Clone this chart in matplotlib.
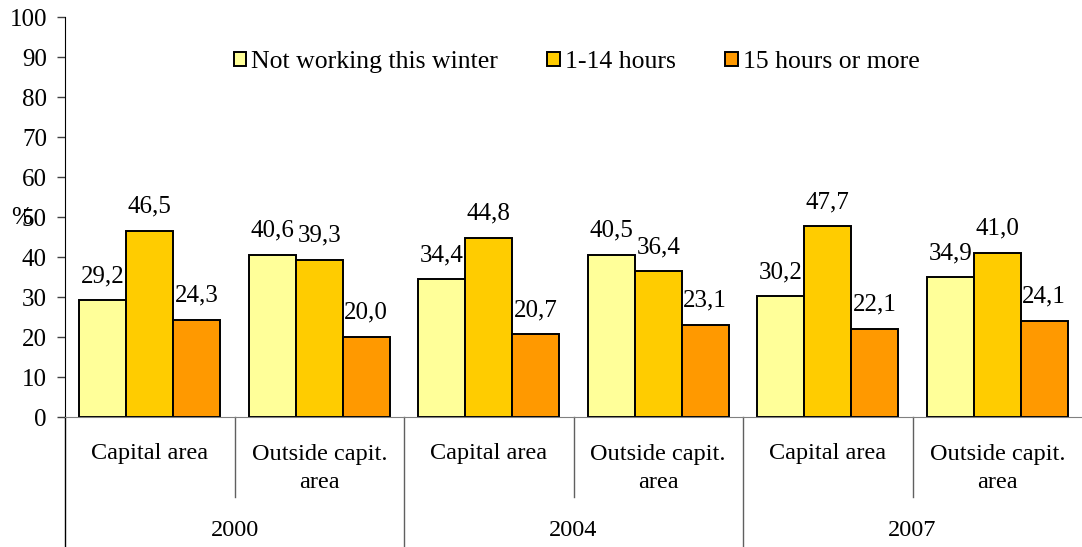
import matplotlib.pyplot as plt
import numpy as np

plt.rcParams['font.family'] = ['Liberation Serif', 'DejaVu Serif']
plt.rcParams['font.size'] = 18

years = ['2000', '2004', '2007']
areas = ['Capital area', 'Outside capit.\narea']
series = ['Not working this winter', '1-14 hours', '15 hours or more']
not_working = [29.2, 40.6, 34.4, 40.5, 30.2, 34.9]
hours_1_14 = [46.5, 39.3, 44.8, 36.4, 47.7, 41.0]
hours_15 = [24.3, 20.0, 20.7, 23.1, 22.1, 24.1]
colors = ['#FFFF99', '#FFCC00', '#FF9900']

fig = plt.figure(figsize=(10.82, 5.47), dpi=100)
ax = fig.add_axes([65 / 1082, 1 - 417 / 547, 1017 / 1082, 400 / 547])

n = len(not_working)
x = np.arange(n) + 0.5
w = 47 / 169.5
for j, (vals, col, name) in enumerate(zip([not_working, hours_1_14, hours_15], colors, series)):
    pos = x + (j - 1) * w
    ax.bar(pos, vals, width=w, color=col, edgecolor='black', linewidth=1.4, label=name)
    for px, v in zip(pos, vals):
        ax.annotate(f'{v:.1f}'.replace('.', ','), (px, v), xytext=(0, 13),
                    textcoords='offset points', ha='center', va='baseline')

ax.set_xlim(0, n)
ax.set_ylim(0, 100)
ax.set_yticks(range(0, 101, 10))
ax.set_xticks([])
ax.tick_params(axis='y', direction='out', length=6, width=1, color='#404040', pad=7)
for s in ['top', 'right']:
    ax.spines[s].set_visible(False)
ax.spines['bottom'].set_color('#808080')
ax.spines['left'].set_color('black')

# category grid below the axis
tr = ax.get_xaxis_transform()
ax.plot([0, 0], [0, -0.33], color='black', lw=1, transform=tr, clip_on=False)
for k in range(n):
    ax.text(k + 0.5, -0.09 if k % 2 == 0 else -0.129, areas[k % 2], transform=tr,
            ha='center', va='center', fontsize=17.5, linespacing=1.45)
    if k % 2 == 0:
        ax.plot([k + 1, k + 1], [0, -0.2], color='#606060', lw=1, transform=tr, clip_on=False)
for g, yr in enumerate(years):
    ax.text(2 * g + 1, -0.2825, yr, transform=tr, ha='center', va='center', fontsize=17.5)
    if g > 0:
        ax.plot([2 * g, 2 * g], [0, -0.33], color='#606060', lw=1, transform=tr, clip_on=False)

fig.text(22 / 1082, 1 - 218 / 547, '%', ha='center', va='center')

ax.legend(loc='center', bbox_to_anchor=(0.503, 0.8875), ncol=3, frameon=False,
          fontsize=18.5, handlelength=0.5, handleheight=0.5, handletextpad=0.2,
          columnspacing=1.9, borderaxespad=0)

fig.savefig('out.png', dpi=100)
